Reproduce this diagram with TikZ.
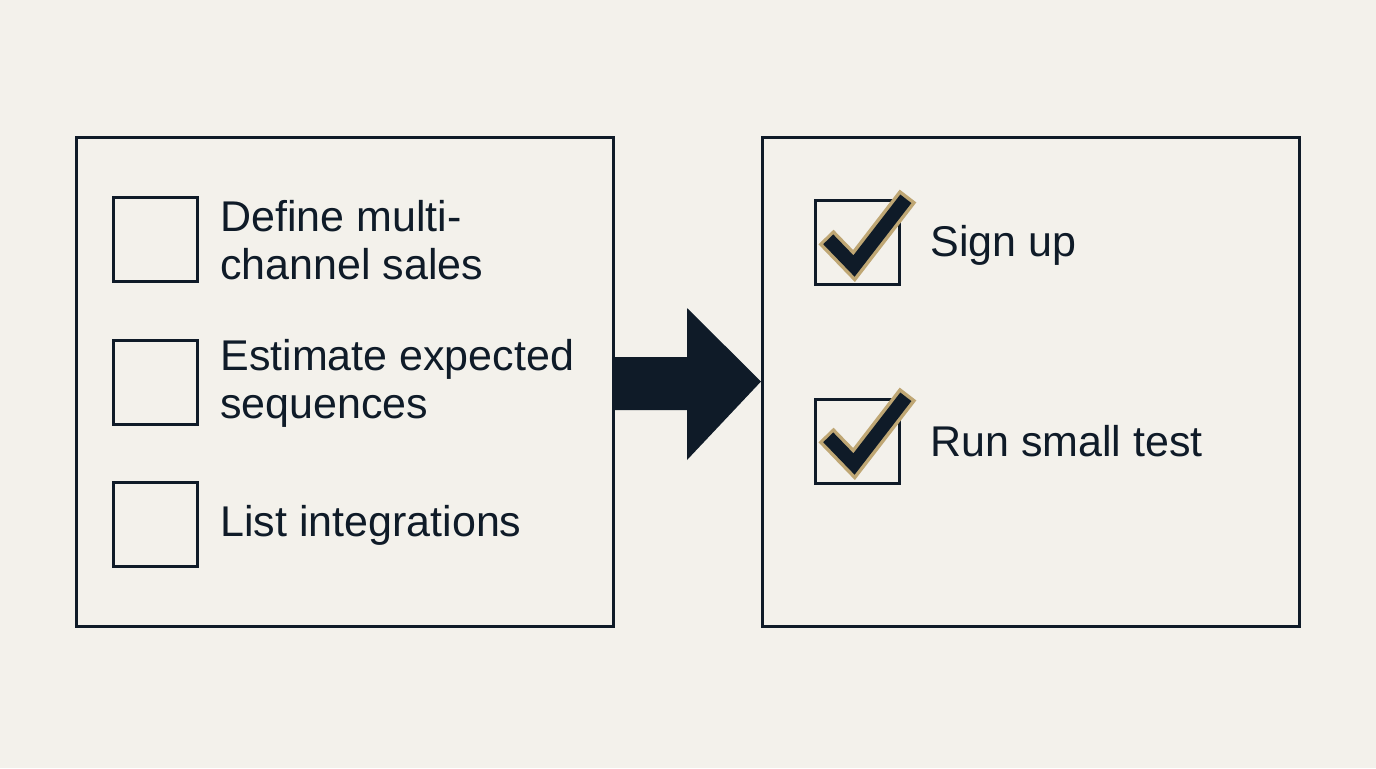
\documentclass[tikz,border=0pt]{standalone}
\usepackage{fontspec}
\usetikzlibrary{calc}
\setmainfont{Liberation Sans}
\definecolor{bg}{HTML}{F3F1EB}
\definecolor{ink}{HTML}{0F1B28}
\definecolor{gold}{HTML}{BFA774}
\begin{document}
\begin{tikzpicture}[x=0.5pt,y=-0.5pt,
  panel/.style={draw=ink,line width=1.5pt,minimum width=268.5pt,minimum height=244.5pt,inner sep=0pt},
  cbox/.style={draw=ink,line width=1.5pt,minimum width=42pt,minimum height=42pt,inner sep=0pt},
  lbl/.style={anchor=west,text=ink,font=\fontsize{21.5pt}{24pt}\selectfont,align=left,inner sep=0pt},
  chkgold/.style={draw=gold,line width=10.5pt,line join=miter,line cap=butt},
  chkink/.style={draw=ink,line width=7pt,line join=miter,line cap=butt}]
\fill[bg] (0,0) rectangle (1376,768);
\useasboundingbox (0,0) rectangle (1376,768);
% panels
\node[panel] (left) at (344.5,381.5) {};
\node[panel] (right) at (1031,381.5) {};
% left checkboxes
\node[cbox] (c1) at (155,239) {};
\node[cbox] (c2) at (155,382) {};
\node[cbox] (c3) at (155,524.5) {};
\node[lbl] (t1) at (220,240) {Define multi-\\channel sales};
\node[lbl] (t2) at (220,383) {Estimate expected\\sequences};
\node[lbl] (t3) at (220,525) {List integrations};
% arrow
\fill[ink] (left.east |- 0,357) -- (687,357) -- (687,308) -- (right.west) -- (687,460) -- (687,410) -- (left.east |- 0,410) -- cycle;
% right checkboxes
\node[cbox] (r1) at (857,242) {};
\node[cbox] (r2) at (857,441) {};
\node[lbl] (s1) at (930,245) {Sign up};
\node[lbl] (s2) at (930,441) {Run small test};
% checkmarks
\coordinate (a1) at (826,237); \coordinate (b1) at (854,266); \coordinate (e1) at (908,196);
\draw[chkgold] (a1) -- (b1) -- (e1);
\draw[chkink] ($(a1)!0.08!(b1)$) -- (b1) -- ($(e1)!0.04!(b1)$);
\coordinate (a2) at (826,435); \coordinate (b2) at (854,464); \coordinate (e2) at (908,394);
\draw[chkgold] (a2) -- (b2) -- (e2);
\draw[chkink] ($(a2)!0.08!(b2)$) -- (b2) -- ($(e2)!0.04!(b2)$);
\end{tikzpicture}
\end{document}
